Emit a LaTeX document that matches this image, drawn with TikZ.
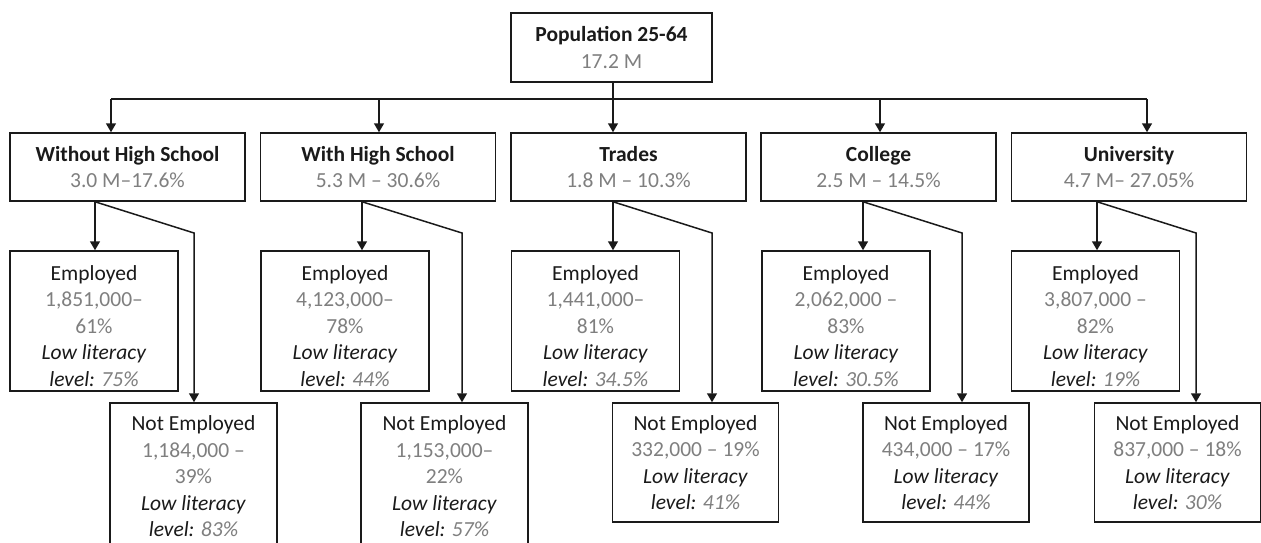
\documentclass[tikz,border=0pt]{standalone}
\usepackage{fontspec}
\setmainfont{Carlito}
\usetikzlibrary{arrows.meta}
\definecolor{tg}{HTML}{7F7F7F}
\definecolor{ln}{HTML}{1A1A1A}
\newcommand{\empstrut}{\rule{0pt}{12.3pt}}
\begin{document}
\begin{tikzpicture}[x=0.5pt,y=-0.5pt,
  box/.style={draw=ln, line width=0.75pt, fill=white, align=center, inner sep=0pt,
    text=ln, font=\fontsize{10.75}{13.25}\selectfont},
  topbox/.style={box, minimum width=100.5pt, minimum height=34.5pt},
  lvbox/.style={box, minimum width=117.5pt, minimum height=34pt},
  embox/.style={box, minimum width=84pt, minimum height=70pt},
  nebox/.style={box, minimum width=83pt, minimum height=59.5pt},
  netall/.style={box, minimum width=83.5pt, minimum height=73.5pt},
  conn/.style={line width=0.75pt, draw=ln},
  arr/.style={conn, -{Triangle[length=4.5pt,width=5pt]}}]
\useasboundingbox (0,0) rectangle (1261,542);
\clip (0,0) rectangle (1261,542);

% top
\node[topbox] (top) at (611.5,47.5) {\textbf{Population 25-64}\\{\color{tg}17.2 M}};

% level 1
\node[lvbox] (A1) at (127.5,167) {\textbf{Without High School}\\{\color{tg}3.0 M–17.6\%}};
\node[lvbox] (A2) at (378,167) {\textbf{With High School}\\{\color{tg}5.3 M – 30.6\%}};
\node[lvbox] (A3) at (628.5,167) {\textbf{Trades}\\{\color{tg}1.8 M – 10.3\%}};
\node[lvbox] (A4) at (878.5,167) {\textbf{College}\\{\color{tg}2.5 M – 14.5\%}};
\node[lvbox] (A5) at (1129,167) {\textbf{University}\\{\color{tg}4.7 M– 27.05\%}};

% employed
\node[embox] (E1) at (94,321) {\empstrut Employed\\{\color{tg}1,851,000–}\\{\color{tg}61\%}\\\textit{Low literacy}\\\textit{level: {\color{tg}75\%}}};
\node[embox] (E2) at (345,321) {\empstrut Employed\\{\color{tg}4,123,000–}\\{\color{tg}78\%}\\\textit{Low literacy}\\\textit{level: {\color{tg}44\%}}};
\node[embox] (E3) at (595.5,321) {\empstrut Employed\\{\color{tg}1,441,000–}\\{\color{tg}81\%}\\\textit{Low literacy}\\\textit{level: {\color{tg}34.5\%}}};
\node[embox] (E4) at (846,321) {\empstrut Employed\\{\color{tg}2,062,000 –}\\{\color{tg}83\%}\\\textit{Low literacy}\\\textit{level: {\color{tg}30.5\%}}};
\node[embox] (E5) at (1095.5,321) {\empstrut Employed\\{\color{tg}3,807,000 –}\\{\color{tg}82\%}\\\textit{Low literacy}\\\textit{level: {\color{tg}19\%}}};

% not employed
\node[netall] (N1) at (193.5,476.5) {Not Employed\\{\color{tg}1,184,000 –}\\{\color{tg}39\%}\\\textit{Low literacy}\\\textit{level: {\color{tg}83\%}}};
\node[netall] (N2) at (444.5,476.5) {Not Employed\\{\color{tg}1,153,000–}\\{\color{tg}22\%}\\\textit{Low literacy}\\\textit{level: {\color{tg}57\%}}};
\node[nebox] (N3) at (695.5,462.5) {Not Employed\\{\color{tg}332,000 – 19\%}\\\textit{Low literacy}\\\textit{level: {\color{tg}41\%}}};
\node[nebox] (N4) at (946,462.5) {Not Employed\\{\color{tg}434,000 – 17\%}\\\textit{Low literacy}\\\textit{level: {\color{tg}44\%}}};
\node[nebox] (N5) at (1177.5,462.5) {Not Employed\\{\color{tg}837,000 – 18\%}\\\textit{Low literacy}\\\textit{level: {\color{tg}30\%}}};

% top-level connectors
\coordinate (hb) at (613,99);
\coordinate (c1) at (111,0);
\coordinate (c2) at (379,0);
\coordinate (c4) at (880,0);
\coordinate (c5) at (1147,0);
\draw[conn] (c1 |- hb) -- (c5 |- hb);
\draw[arr] (top.south -| hb) -- (A3.north -| hb);
\draw[arr] (c1 |- hb) -- (A1.north -| c1);
\draw[arr] (c2 |- hb) -- (A2.north -| c2);
\draw[arr] (c4 |- hb) -- (A4.north -| c4);
\draw[arr] (c5 |- hb) -- (A5.north -| c5);

% branch connectors
\coordinate (b1) at (95,0);   \coordinate (k1) at (194,233);
\coordinate (b2) at (362,0);  \coordinate (k2) at (462,233);
\coordinate (b3) at (613,0);  \coordinate (k3) at (712,233);
\coordinate (b4) at (863,0);  \coordinate (k4) at (962,233);
\coordinate (b5) at (1097,0); \coordinate (k5) at (1196,233);
\foreach \i in {1,...,5}{
  \draw[arr] (A\i.south -| b\i) -- (E\i.north -| b\i);
  \draw[arr] (A\i.south -| b\i) -- (k\i) -- (N\i.north -| k\i);
}
\end{tikzpicture}
\end{document}
